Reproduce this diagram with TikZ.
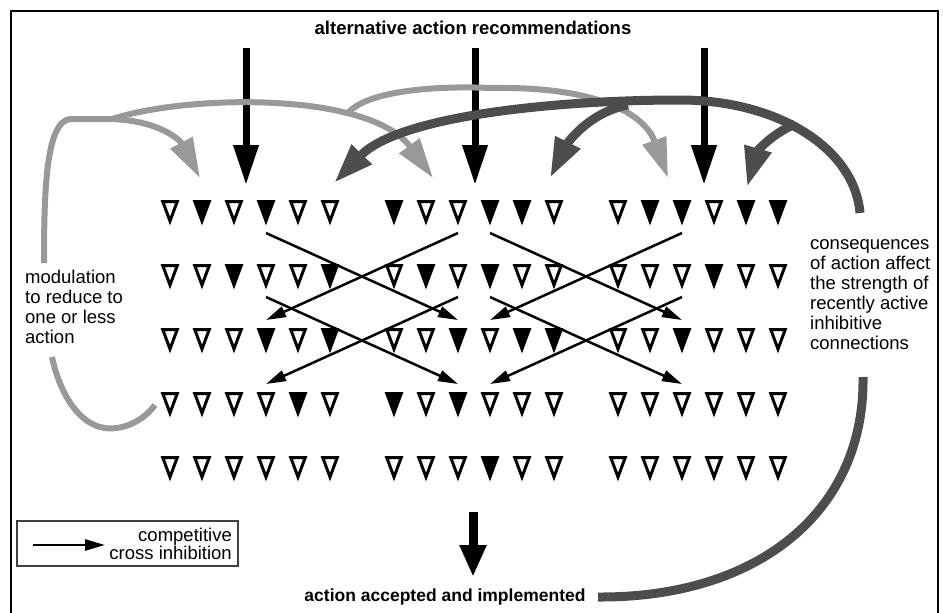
\documentclass[tikz,border=0pt]{standalone}
\usepackage{fontspec}
\setmainfont{Liberation Sans}
\usetikzlibrary{arrows.meta,calc}
\definecolor{lightfeed}{HTML}{999999}
\definecolor{darkfeed}{HTML}{4D4D4D}
\begin{document}
\begin{tikzpicture}[x=1pt,y=-1pt,
  unit/.style={inner sep=0pt, outer sep=0pt, minimum width=14.5pt, minimum height=19.5pt},
  tri0/.style={draw=black, line width=3pt, line join=miter, fill=white},
  tri1/.style={draw=black, line width=3pt, line join=miter, fill=black},
  inhib/.style={line width=2.5pt, -{Triangle[length=20pt,width=11pt]}},
  inarrow/.style={line width=7pt, -{Triangle[length=40pt,width=24pt]}},
  outarrow/.style={line width=9pt, -{Triangle[length=32pt,width=25pt]}},
  lightpath/.style={draw=lightfeed, line width=6pt},
  darkpath/.style={draw=darkfeed, line width=9pt},
  lighthead/.style={-{Triangle[length=40pt,width=24pt]}},
  darkhead/.style={-{Triangle[length=40pt,width=26pt]}},
  sidetext/.style={font=\fontsize{18.5}{20}\selectfont, align=left, inner sep=0pt},
  heading/.style={font=\bfseries\fontsize{18.5}{20}\selectfont, inner sep=0pt},
]
\useasboundingbox (0,0) rectangle (943,613);
\fill[white] (0,0) rectangle (943,613);

% outer frame (open at the bottom edge)
\draw[line width=2pt] (10.5,640) -- (10.5,11) -- (937.5,11) -- (937.5,640);

% grid of units: 5 rows, 3 groups of 6
\foreach \row/\pat in {
  1/{0,1,0,1,0,0, 1,0,0,1,1,0, 0,1,1,0,1,1},
  2/{0,0,1,0,0,1, 0,1,0,1,0,0, 0,0,0,1,0,0},
  3/{0,0,0,1,0,1, 0,0,1,0,1,1, 0,0,1,0,0,0},
  4/{0,0,0,0,1,0, 1,0,1,0,0,0, 0,0,0,0,0,0},
  5/{0,0,0,0,0,0, 0,0,0,1,0,0, 0,0,0,0,0,0}} {
  \foreach \v [count=\c] in \pat {
    \pgfmathsetmacro\xx{170+224*floor((\c-1)/6)+32*mod(\c-1,6)}
    \pgfmathsetmacro\yy{211.25+64*(\row-1)}
    \node[unit] (t-\row-\c) at (\xx,\yy) {};
    \draw[tri\v] (t-\row-\c.north west) -- (t-\row-\c.north east) -- (t-\row-\c.south) -- cycle;
  }
}

% competitive cross inhibition between neighbouring groups
\foreach \a/\b/\r in {4/9/1, 9/4/1, 4/9/2, 9/4/2, 10/15/1, 15/10/1, 10/15/2, 15/10/2} {
  \pgfmathtruncatemacro\rr{\r+2}
  \draw[inhib] ($(t-\r-\a.south)+(0,12)$) -- ($(t-\rr-\b.north)+(0,-9.5)$);
}

% recommendations coming in from above
\node[heading] (title) at (473,28) {alternative action recommendations};
\foreach \i/\x in {1/246, 2/475, 3/704} {
  \coordinate (in-\i) at (\x,48);
  \coordinate (in-\i-tip) at (\x,185);
  \draw[inarrow] (in-\i) -- (in-\i-tip);
}

% accepted action leaving below
\coordinate (out-top) at (473,512);
\coordinate (out-tip) at (473,577);
\draw[outarrow] (out-top) -- (out-tip);
\node[heading, font=\bfseries\fontsize{17.5}{19}\selectfont] (implemented) at (445,597) {action accepted and implemented};

% modulation feedback (light grey)
\node[sidetext, anchor=west] (modtext) at (25,307) {modulation\\to reduce to\\one or less\\action};
\coordinate (mod-start) at (155,405);
\coordinate (mod-gap-low) at (52,357);
\coordinate (mod-gap-high) at (44,263);
\coordinate (mod-split) at (112,119);
\coordinate (mod-tip-1) at (200,178);
\coordinate (mod-tip-2) at (433,178);
\coordinate (mod-tip-3) at (668,178);
\draw[lightpath] (mod-start) .. controls (140,425) and (118,430) .. (105,428)
  .. controls (80,425) and (60,395) .. (mod-gap-low);
\draw[lightpath] (mod-gap-high) .. controls (44,190) and (46,122) .. (70,119) -- (mod-split);
\draw[lightpath, lighthead] (mod-split) .. controls (190,94) and (370,92) .. (mod-tip-2);
\draw[lightpath, lighthead] (mod-split) .. controls (160,121) and (180,140) .. (mod-tip-1);
\draw[lightpath, lighthead] (348,113) .. controls (370,88) and (450,86) .. (490,88)
  .. controls (600,86) and (645,115) .. (mod-tip-3);

% consequence feedback (dark grey)
\node[sidetext, anchor=west] (constext) at (810,295) {consequences\\of action affect\\the strength of\\recently active\\inhibitive\\connections};
\coordinate (cons-start) at (598,597);
\coordinate (cons-gap-low) at (863,377);
\coordinate (cons-gap-high) at (860,213);
\coordinate (cons-tip-1) at (334,183);
\coordinate (cons-tip-2) at (550,178);
\coordinate (cons-tip-3) at (747,187);
\draw[darkpath] (cons-start) .. controls (760,598) and (865,510) .. (cons-gap-low);
\draw[darkpath] (cons-gap-high) .. controls (855,150) and (780,100) .. (680,100);
\draw[darkpath, darkhead] (680,100) .. controls (560,100) and (400,115) .. (cons-tip-1);
\draw[darkpath, darkhead] (628,105) .. controls (590,112) and (568,142) .. (cons-tip-2);
\draw[darkpath, darkhead] (795,124) .. controls (770,135) and (757,152) .. (cons-tip-3);

% legend
\node[draw=black!75, line width=2pt, inner sep=0pt, minimum width=221pt, minimum height=45pt] (legend) at (127.5,543.5) {};
\coordinate (leg-a) at (33,545);
\coordinate (leg-b) at (105,545);
\draw[inhib] (leg-a) -- (leg-b);
\node[font=\fontsize{18.5}{18}\selectfont, align=right, inner sep=0pt, anchor=east] (legtext) at (232,544) {competitive\\cross inhibition};
\end{tikzpicture}
\end{document}
